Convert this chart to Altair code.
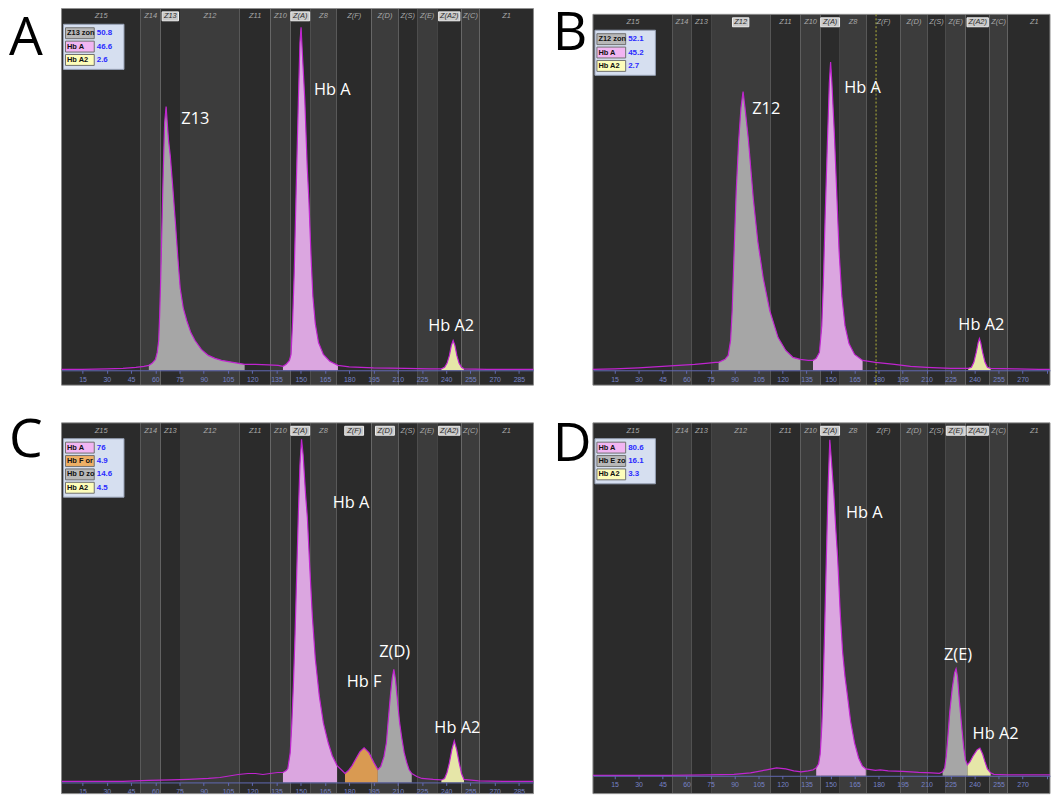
import altair as alt
import pandas as pd

# ---------------- shared data ----------------
TICKS = list(range(15, 286, 15))
ZONES = ["Z15", "Z14", "Z13", "Z12", "Z11", "Z10", "Z(A)", "Z8", "Z(F)", "Z(D)",
         "Z(S)", "Z(E)", "Z(A2)", "Z(C)", "Z1"]
ZONE_EDGES = [2, 51, 63.3, 75.3, 112.3, 131.3, 143.6, 155.8, 172.3, 193.8,
              210.4, 222.0, 234.4, 249.4, 260.6, 294]

# ---------------- panel A ----------------
A_X = [2, 15, 30, 40, 48, 53, 56,
       58, 60.1, 61.2, 62.1, 62.7, 63.2, 63.7, 64.2, 64.7, 65.2, 65.8, 66.7, 67.4, 68.2, 69.3,
       70.8, 72.4, 73.9, 75.4, 77.3, 79.5, 82, 84.6, 88.5, 92.8, 97, 101, 108, 115.3,
       122, 130, 136, 139,
       141, 143, 144, 145, 146, 147, 148.5, 149.5, 150.2, 151, 152.5, 154, 155, 156.5, 157.5,
       159, 161, 164, 168, 173,
       180, 195, 215, 230, 237,
       239, 240.5, 242, 243.2, 244.3, 245.4, 246.6, 248, 249.5, 251,
       265, 280, 294]
A_V = [1, 1, 1.5, 2, 3, 4, 5,
       7, 11, 18, 30, 55, 83, 115, 150, 185, 216, 250, 266, 250, 232, 216,
       185, 150, 115, 83, 63, 50, 38, 30, 21, 15, 12, 10, 8, 6,
       6, 5.5, 5, 4,
       6, 10, 16, 50, 100, 170, 270, 330, 346, 320, 273, 205, 173, 110, 75,
       47, 28, 16, 9, 5,
       3.5, 2.5, 2, 1.5, 1.5,
       3, 7, 15, 25, 30, 25, 15, 7, 3, 1.5,
       1, 1, 1]
A_PEAK_KIND = ["zone", "A", "A2"]
A_PEAK_FROM = [56, 139, 237]
A_PEAK_TO = [115.3, 173, 251]
A_HIGHLIGHT = ["Z13", "Z(A)", "Z(A2)"]
A_LEG_NAMES = ["Z13 zone", "Hb A", "Hb A2"]
A_LEG_VALUES = ["50.8", "46.6", "2.6"]
A_LEG_KIND = ["zone", "A", "A2"]
A_ANN_TEXT = ["Z13", "Hb A", "Hb A2"]
A_ANN_X = [84.8, 169.5, 243.1]
A_ANN_Y = [253, 283, 45]

# ---------------- panel B ----------------
B_X = [1, 15, 30, 45, 55, 65, 72, 78,
       80, 84, 86, 87.5, 88.5, 89.5, 91, 92.5, 94, 95.3, 96.5, 98.6, 101.7, 104.5, 107.9,
       112, 117.2, 122, 126.5, 131,
       136, 139,
       141, 143, 144.5, 145.5, 146.5, 148, 149.2, 150, 150.8, 152.3, 153.8, 155.3, 157, 159,
       161.5, 165, 170,
       178, 190, 200, 210, 225, 236,
       238, 239.5, 241, 242.2, 243, 243.8, 245, 246.5, 248, 250,
       265, 280, 294]
B_V = [1, 1.5, 2.5, 4, 5, 6, 7, 8,
       8, 11, 15, 30, 60, 110, 180, 230, 265, 281, 265, 233, 173, 130, 93,
       60, 33, 20, 13, 11,
       10, 10,
       12, 18, 45, 90, 150, 230, 290, 311, 290, 240, 180, 120, 75, 45,
       27, 16, 10,
       8, 6, 4, 3, 2, 2,
       3, 8, 18, 28, 32, 28, 18, 8, 3, 2,
       1.5, 1, 1]
B_PEAK_KIND = ["zone", "A", "A2"]
B_PEAK_FROM = [80, 139, 236]
B_PEAK_TO = [131, 170, 250]
B_HIGHLIGHT = ["Z12", "Z(A)", "Z(A2)"]
B_LEG_NAMES = ["Z12 zone", "Hb A", "Hb A2"]
B_LEG_VALUES = ["52.1", "45.2", "2.7"]
B_LEG_KIND = ["zone", "A", "A2"]
B_ANN_TEXT = ["Z12", "Hb A", "Hb A2"]
B_ANN_X = [109.8, 169.9, 244.2]
B_ANN_Y = [263, 285, 46]
B_MARKER = [178.4]

# ---------------- panel C ----------------
C_X = [2, 20, 40, 56, 70, 80.6, 92.9, 100, 111.3, 117.4, 122, 126.6, 131, 135.8, 139,
       141, 142, 143.5, 144.5, 145.5, 146.5, 147.5, 148.5, 149.5, 150.5, 151.5, 153, 154.1,
       155.5, 157.2, 159, 161.5, 164, 167, 169.5, 172.5, 175.6, 177.4,
       179.5, 181.8, 184.9, 186.7, 189.2, 192.2, 195.3, 197.7,
       199.5, 201.5, 203, 204, 205.5, 206.6, 207.6, 208.6, 210, 211.2, 212.5, 214, 215.6,
       217, 218.7, 221.8,
       225, 232, 237,
       239, 240.5, 242, 243.5, 245, 246.5, 248, 249.5, 251,
       260, 275, 294]
C_V = [1, 1, 1, 2, 2.5, 3, 4, 5, 8, 9, 9, 8, 9, 10, 10,
       12, 14, 30, 60, 100, 150, 210, 270, 320, 346, 330, 290, 267,
       220, 167, 125, 87, 60, 40, 27, 17, 12, 9,
       12, 17, 26, 31, 35, 30, 20, 13,
       16, 26, 40, 60, 88, 105, 114, 104, 80, 60, 45, 30, 20,
       13, 9, 6,
       4, 3, 2.5,
       4, 10, 20, 33, 42, 33, 20, 9, 3,
       1.5, 1, 1]
C_PEAK_KIND = ["A", "F", "zone", "A2"]
C_PEAK_FROM = [139, 177.4, 197.7, 237]
C_PEAK_TO = [172.5, 197.7, 218.7, 251]
C_HIGHLIGHT = ["Z(A)", "Z(F)", "Z(D)", "Z(A2)"]
C_LEG_NAMES = ["Hb A", "Hb F or I", "Hb D zone", "Hb A2"]
C_LEG_VALUES = ["76", "4.9", "14.6", "4.5"]
C_LEG_KIND = ["A", "F", "zone", "A2"]
C_ANN_TEXT = ["Hb A", "Hb F", "Z(D)", "Hb A2"]
C_ANN_X = [181.1, 189.2, 208.1, 246.9]
C_ANN_Y = [282, 101, 132, 55]

# ---------------- panel D ----------------
D_X = [1.5, 20, 50, 74, 89.6, 100, 110, 116.2, 122, 127, 131.6, 136, 139,
       141, 142.5, 143.5, 144.5, 145.2, 146.3, 147.5, 148.5, 149.5, 150.5, 152, 153.2, 154.4,
       156, 157.5, 159, 160.6, 162.5, 165, 167.5, 169.8, 172,
       178, 181, 186, 195, 205, 213, 218,
       220, 221.3, 222.3, 223.3, 224.5, 226, 227.5, 228.4, 229.3, 230.5, 232, 233.2, 234.3,
       235.5,
       237, 239, 241.5, 243.3, 245, 246.5, 248, 250, 252,
       260, 275, 294]
D_V = [0.5, 0.5, 0.5, 1, 1.5, 3, 6, 8, 7, 5, 4, 5, 6,
       8, 12, 22, 50, 80, 150, 230, 295, 339, 318, 285, 250, 220,
       165, 125, 100, 80, 55, 33, 18, 10, 7,
       5.5, 6, 5, 4.5, 3.5, 3, 2.5,
       4, 8, 20, 40, 65, 88, 104, 108, 100, 75, 48, 28, 16,
       11,
       14, 20, 26, 28, 22, 14, 7, 3, 1.5,
       1, 1, 1]
D_PEAK_KIND = ["A", "zone", "A2"]
D_PEAK_FROM = [141, 219, 235.5]
D_PEAK_TO = [172, 235.5, 250]
D_HIGHLIGHT = ["Z(A)", "Z(E)", "Z(A2)"]
D_LEG_NAMES = ["Hb A", "Hb E zone", "Hb A2"]
D_LEG_VALUES = ["80.6", "16.1", "3.3"]
D_LEG_KIND = ["A", "zone", "A2"]
D_ANN_TEXT = ["Hb A", "Z(E)", "Hb A2"]
D_ANN_X = [171.0, 229.6, 253.1]
D_ANN_Y = [265, 122, 42]

# ---------------- styling ----------------
DARK = "#2b2b2b"
LIGHT = "#3c3c3c"
TRACE = "#c024d0"
AXIS_C = "#6169b3"
FILL = {"zone": "#a6a6a6", "A": "#dba6e0", "A2": "#e6e6a8", "F": "#d99a52"}
LABEL_FILL = {"zone": "#b8b8b8", "A": "#f2b5f2", "A2": "#fdfdba", "F": "#eeb066"}


def make_panel(letter, X, V, pk, pf, pt, hl, ln, lv, lk, at, ax, ay,
               W, H, dom, ydom, top, lpos, marker=None, hide_last=False):
    lo, hi = dom
    ppu = W / (hi - lo)
    xs = alt.Scale(domain=[lo, hi], nice=False, zero=False)
    ys = alt.Scale(domain=list(ydom), nice=False, zero=False)
    akw = dict(values=TICKS, offset=ydom[0], title=None, grid=False, zindex=1,
               domainColor=AXIS_C, tickColor=AXIS_C, tickSize=3, domainWidth=1,
               labelColor="#7682c6", labelFontSize=7, labelFont="Liberation Sans",
               labelPadding=2, labelOverlap=False)
    if hide_last:
        akw["labelExpr"] = "datum.value == 285 ? '' : datum.label"
    xax = alt.Axis(**akw)

    def xe(f):
        return alt.X(f, type="quantitative", scale=xs, axis=xax)

    def ye(f):
        return alt.Y(f, type="quantitative", scale=ys, axis=None)

    zdf = pd.DataFrame({"zone": ZONES, "x0": ZONE_EDGES[:-1], "x1": ZONE_EDGES[1:]})
    zdf["xc"] = (zdf["x0"] + zdf["x1"]) / 2
    zdf["shade"] = ["d" if i % 2 == 0 else "l" for i in range(len(zdf))]
    zdf["b0"] = zdf["x0"]
    zdf["b1"] = zdf["x1"]
    zdf.loc[0, "b0"] = lo - 5
    zdf.loc[len(zdf) - 1, "b1"] = hi + 5

    layers = []
    layers.append(alt.Chart(zdf).mark_rect(clip=True).encode(
        x=xe("b0"), x2="b1", y=alt.value(top), y2=alt.value(H),
        fill=alt.Fill("shade:N", scale=alt.Scale(domain=["d", "l"], range=[DARK, LIGHT]),
                      legend=None)))

    one = pd.DataFrame({"k": [0]})
    layers.append(alt.Chart(one).mark_rect(fillOpacity=0, stroke="#8a8a8a", strokeWidth=1).encode(
        x=alt.value(0), x2=alt.value(W), y=alt.value(top), y2=alt.value(H)))

    # zone labels
    plain = zdf[~zdf["zone"].isin(hl)]
    layers.append(alt.Chart(plain).mark_text(
        fontStyle="italic", fontSize=7.5, font="Liberation Sans", color="#a9a9a9",
        baseline="middle").encode(x=xe("xc"), y=alt.value(top + 8), text="zone:N"))
    hdf = zdf[zdf["zone"].isin(hl)].copy()
    half = [(9 + 2.5 * len(z)) / 2 / ppu for z in hdf["zone"]]
    hdf["h0"] = hdf["xc"] - half
    hdf["h1"] = hdf["xc"] + half
    layers.append(alt.Chart(hdf).mark_rect(fill="#c9c9c9", stroke="#efefef", strokeWidth=1).encode(
        x=xe("h0"), x2="h1", y=alt.value(top + 3.5), y2=alt.value(top + 12.5)))
    layers.append(alt.Chart(hdf).mark_text(
        fontStyle="italic", fontSize=7.5, font="Liberation Sans", color="#2a2a2a",
        baseline="middle").encode(x=xe("xc"), y=alt.value(top + 8), text="zone:N"))

    tdf = pd.DataFrame({"x": X, "v": V})
    if marker:
        mdf = pd.DataFrame({"x": marker})
        layers.append(alt.Chart(mdf).mark_rule(color="#b5b53c", strokeDash=[2, 2], strokeWidth=1).encode(
            x=xe("x"), y=alt.value(top), y2=alt.value(H)))

    for kind, a, b in zip(pk, pf, pt):
        layers.append(alt.Chart(tdf).transform_filter(
            alt.FieldRangePredicate(field="x", range=[a, b])
        ).mark_area(color=FILL[kind], clip=True).encode(
            x=xe("x"), y=ye("v"), y2=alt.datum(0)))

    layers.append(alt.Chart(tdf).mark_line(color=TRACE, strokeWidth=1.2, clip=True).encode(
        x=xe("x"), y=ye("v")))

    # legend box
    n = len(ln)
    ltop = top + 16
    layers.append(alt.Chart(one).mark_rect(fill="#d6dff0", stroke="#97a1b5", strokeWidth=1).encode(
        x=alt.value(2), x2=alt.value(63), y=alt.value(ltop), y2=alt.value(ltop + n * 13.5 + 5)))
    for i, (nm, val, kd) in enumerate(zip(ln, lv, lk)):
        yc = ltop + 9 + 13.5 * i
        layers.append(alt.Chart(one).mark_rect(fill=LABEL_FILL[kd], stroke="#707070", strokeWidth=1).encode(
            x=alt.value(4), x2=alt.value(33), y=alt.value(yc - 5.5), y2=alt.value(yc + 5.5)))
        layers.append(alt.Chart(one).mark_text(
            text=nm, align="left", baseline="middle", font="Liberation Sans", fontSize=7.5,
            fontWeight="bold", color="#111111", limit=28, ellipsis="\u200b").encode(
            x=alt.value(5.5), y=alt.value(yc)))
        layers.append(alt.Chart(one).mark_text(
            text=val, align="left", baseline="middle", font="Liberation Sans", fontSize=8,
            fontWeight="bold", color="#2b2bff").encode(x=alt.value(35.5), y=alt.value(yc)))

    adf = pd.DataFrame({"t": at, "x": ax, "y": ay})
    layers.append(alt.Chart(adf).mark_text(
        font="Open Sans", fontSize=16.5, color="white", baseline="middle").encode(
        x=xe("x"), y=ye("y"), text="t:N"))

    layers.append(alt.Chart(one).mark_text(
        text=letter, font="Open Sans", fontSize=54, color="black", align="center",
        baseline="alphabetic").encode(x=alt.value(lpos[0]), y=alt.value(lpos[1])))

    return alt.layer(*layers).properties(width=W, height=H)


pA = make_panel("A", A_X, A_V, A_PEAK_KIND, A_PEAK_FROM, A_PEAK_TO, A_HIGHLIGHT,
                A_LEG_NAMES, A_LEG_VALUES, A_LEG_KIND, A_ANN_TEXT, A_ANN_X, A_ANN_Y,
                476, 380, (2, 294), (-15, 365), 0, (-36, 47))
pB = make_panel("B", B_X, B_V, B_PEAK_KIND, B_PEAK_FROM, B_PEAK_TO, B_HIGHLIGHT,
                B_LEG_NAMES, B_LEG_VALUES, B_LEG_KIND, B_ANN_TEXT, B_ANN_X, B_ANN_Y,
                461, 380, (1.5, 287.1), (-15, 365), 6, (-23, 42), marker=B_MARKER,
                hide_last=True)
pC = make_panel("C", C_X, C_V, C_PEAK_KIND, C_PEAK_FROM, C_PEAK_TO, C_HIGHLIGHT,
                C_LEG_NAMES, C_LEG_VALUES, C_LEG_KIND, C_ANN_TEXT, C_ANN_X, C_ANN_Y,
                476, 374, (2, 294), (-11.3, 362.7), 0, (-36, 34))
pD = make_panel("D", D_X, D_V, D_PEAK_KIND, D_PEAK_FROM, D_PEAK_TO, D_HIGHLIGHT,
                D_LEG_NAMES, D_LEG_VALUES, D_LEG_KIND, D_ANN_TEXT, D_ANN_X, D_ANN_Y,
                461, 374, (1.5, 287.1), (-18, 356), 0, (-21, 38), hide_last=True)

chart = alt.concat(
    pA, pB, pC, pD, columns=2,
    spacing={"row": 38, "column": 60}, bounds="flush"
).properties(
    padding={"top": -5, "left": 0, "right": 0, "bottom": 0}, background="white"
).configure_view(stroke="transparent")

chart.save("out.html", embed_options={"renderer": "svg", "actions": False})
